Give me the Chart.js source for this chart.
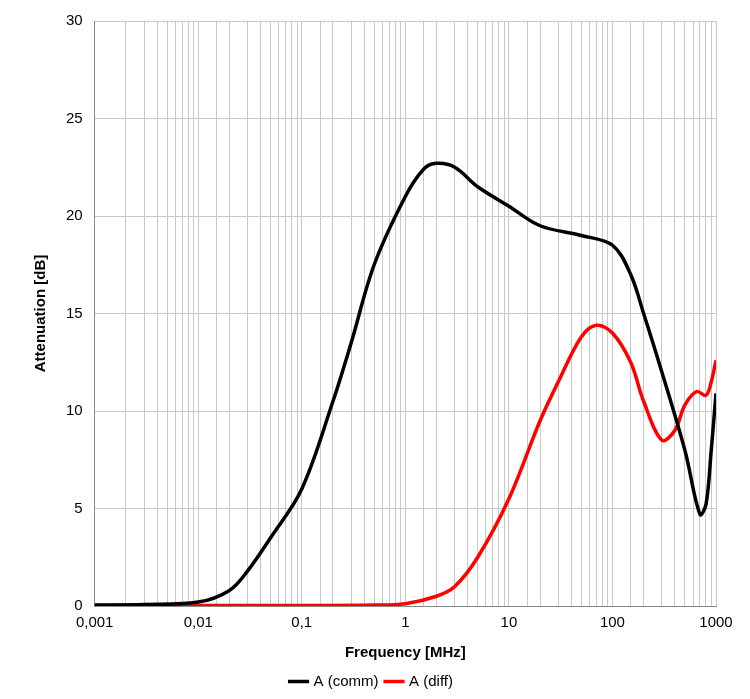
<!DOCTYPE html>
<html><head><meta charset="utf-8">
<script src="https://cdn.jsdelivr.net/npm/chart.js@4"></script>
<style>html,body{margin:0;background:#fff}#w{width:750px;height:699px}</style>
</head><body><div id="w"><canvas id="c"></canvas></div>
<script>
const commFreq=[0.001,0.003,0.01,0.02,0.03,0.05,0.1,0.2,0.3,0.5,1,1.5,2,3,5,10,20,50,100,150,200,300,500,700,800,900,1000];
const commVals=[0.05,0.08,0.2,0.8,1.8,3.5,6,10.5,13.5,17.5,21,22.4,22.7,22.5,21.5,20.5,19.5,19,18.5,17,15,12,8,4.7,5.2,8,10.9];
const diffFreq=[0.001,0.01,0.1,0.5,1,2,3,5,10,20,30,50,70,100,150,200,300,400,500,650,800,900,1000];
const diffVals=[0.02,0.02,0.03,0.05,0.12,0.5,1,2.5,5.5,9.5,11.5,13.8,14.4,14,12.5,10.5,8.5,9,10.3,11,10.8,11.5,12.6];
const yTicks=[0,5,10,15,20,25,30];
const toPts=(f,v)=>f.map((x,i)=>({x,y:v[i]}));
const F='Liberation Sans';
new Chart(document.getElementById('c'),{type:'line',
data:{datasets:[
{label:'A (comm)',data:toPts(commFreq,commVals),borderColor:'#000',backgroundColor:'#000',borderWidth:3.5,pointRadius:0,tension:0.35},
{label:'A (diff)',data:toPts(diffFreq,diffVals),borderColor:'#ff0000',backgroundColor:'#ff0000',borderWidth:3.5,pointRadius:0,tension:0.35}]},
options:{responsive:true,maintainAspectRatio:false,animation:false,
layout:{padding:{left:28,right:34,top:10,bottom:0}},
plugins:{legend:{position:'bottom',labels:{usePointStyle:true,pointStyle:'line',boxWidth:40,color:'#000',padding:8,font:{family:F,size:15}}},tooltip:{enabled:false}},
scales:{
x:{type:'logarithmic',min:0.001,max:1000,
 grid:{color:'#c8c8c8',drawTicks:false},border:{color:'#888'},
 title:{display:true,text:'Frequency [MHz]',color:'#000',padding:{top:4,bottom:4},font:{family:F,size:15,weight:'bold'}},
 ticks:{autoSkip:false,maxRotation:0,color:'#000',padding:8,font:{family:F,size:15},
  callback:(v)=>{const l=Math.log10(v);return Math.abs(l-Math.round(l))<1e-6?String(v).replace('.',','):'';}}},
y:{min:0,max:30,afterBuildTicks:a=>{a.ticks=yTicks.map(v=>({value:v}));},
 grid:{color:'#c8c8c8',drawTicks:false},border:{color:'#888'},
 title:{display:true,text:'Attenuation [dB]',color:'#000',font:{family:F,size:15,weight:'bold'}},
 ticks:{color:'#000',padding:12,font:{family:F,size:15}}}}}});
</script></body></html>
